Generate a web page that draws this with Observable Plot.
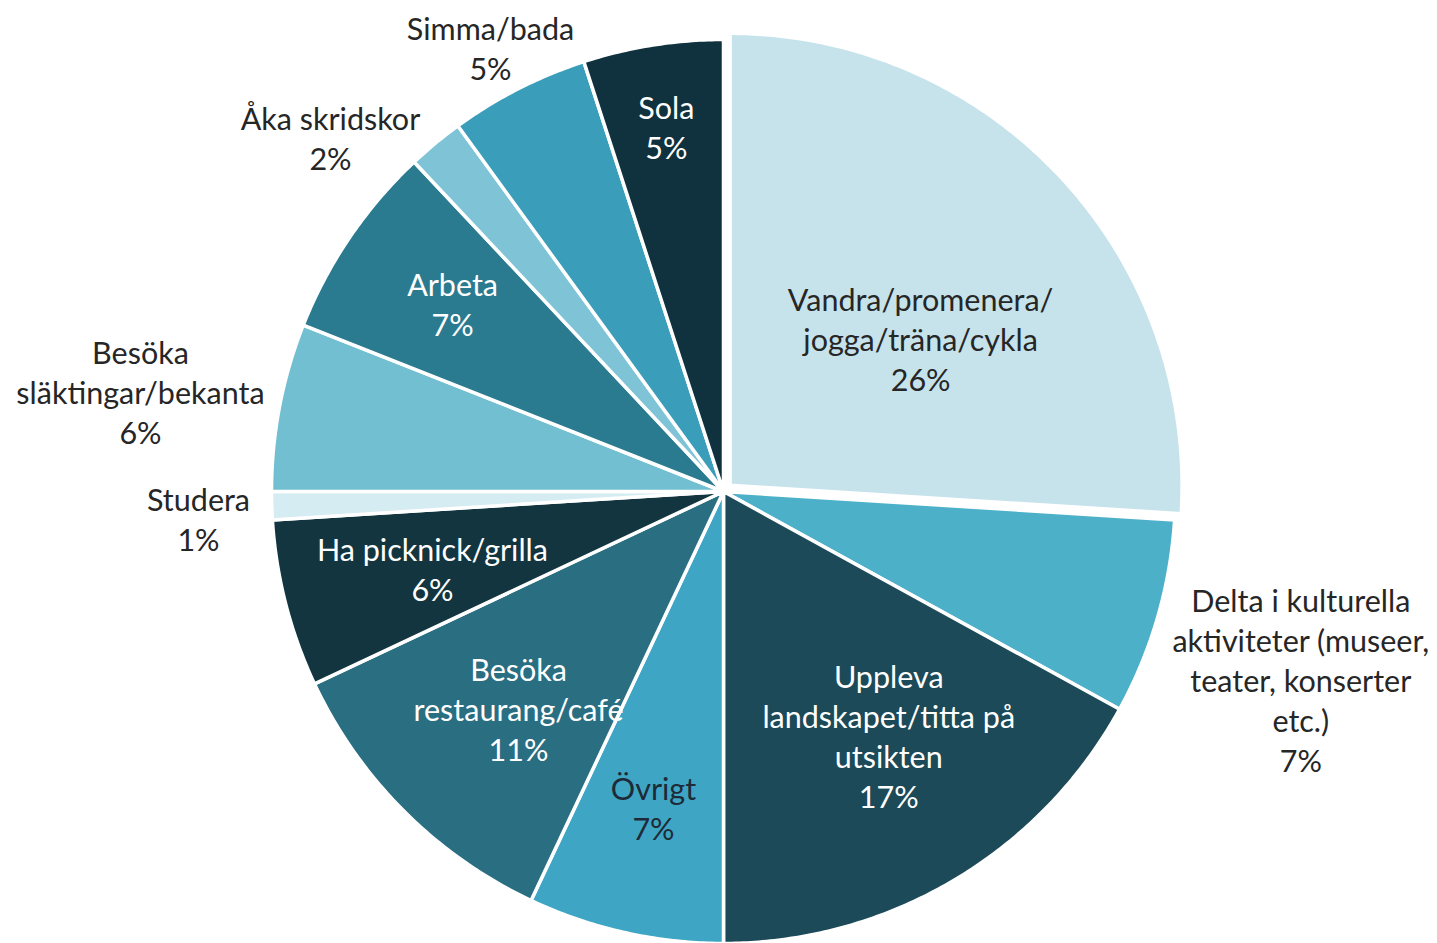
<!DOCTYPE html>
<html>
<head>
<meta charset="utf-8">
<script src="https://cdn.jsdelivr.net/npm/d3@7"></script>
<script src="https://cdn.jsdelivr.net/npm/@observablehq/plot@0.6"></script>
<style>
  html, body { margin: 0; padding: 0; background: #ffffff; }
  #chart { width: 1437px; height: 943px; }
</style>
</head>
<body>
<div id="chart"></div>
<script>
// ---- Data (clockwise from 12 o'clock) ----
const categories = [
  "Vandra/promenera/\njogga/träna/cykla",
  "Delta i kulturella\naktiviteter (museer,\nteater, konserter\netc.)",
  "Uppleva\nlandskapet/titta på\nutsikten",
  "Övrigt",
  "Besöka\nrestaurang/café",
  "Ha picknick/grilla",
  "Studera",
  "Besöka\nsläktingar/bekanta",
  "Arbeta",
  "Åka skridskor",
  "Simma/bada",
  "Sola"
];
const shares = [26, 7, 17, 7, 11, 6, 1, 6, 7, 2, 5, 5];
const percentLabels = ["26%", "7%", "17%", "7%", "11%", "6%", "1%", "6%", "7%", "2%", "5%", "5%"];

// ---- Styling / layout (not data) ----
const sliceColors = ["#c6e3ec", "#4cb0c9", "#1c4a58", "#3ea6c4", "#2a6e82", "#123540",
                     "#d4ecf2", "#72bfd2", "#2b7b90", "#7ec4d6", "#3a9dba", "#10323e"];
const labelColors = ["#262626", "#262626", "#ffffff", "#1e2a38", "#ffffff", "#ffffff",
                     "#262626", "#262626", "#ffffff", "#262626", "#262626", "#ffffff"];
// radial position of each label (fraction of radius) and small angular nudge (deg)
const labelRadius = [0.532, 1.343, 0.652, 0.716, 0.66, 0.666, 1.163, 1.309, 0.73, 1.17, 1.109, 0.817];
const labelNudge  = [5.6, 1.8, -3.5, -0.1, -1.6, -0.4, -1.1, -1.0, 0.6, -8.4, -0.7, 0.1];
const explode = [0.02, 0, 0, 0, 0, 0, 0, 0, 0, 0, 0, 0]; // fraction of radius
const W = 1437, H = 943, CX = 723, CY = 491, R = 452;

// ---- Build slice geometry in unit-circle coordinates ----
const total = d3.sum(shares);
let acc = 0;
const slices = shares.map((v, i) => {
  const a0 = acc / total * 2 * Math.PI;
  acc += v;
  const a1 = acc / total * 2 * Math.PI;
  return {i, name: categories[i], a0, a1, mid: (a0 + a1) / 2};
});

const pts = [];
for (const s of slices) {
  const ox = explode[s.i] * Math.sin(s.mid), oy = explode[s.i] * Math.cos(s.mid);
  pts.push({key: s.name, x: ox, y: oy});
  const n = Math.max(2, Math.ceil((s.a1 - s.a0) / (Math.PI / 360)));
  for (let k = 0; k <= n; k++) {
    const a = s.a0 + (s.a1 - s.a0) * k / n;
    pts.push({key: s.name, x: ox + Math.sin(a), y: oy + Math.cos(a)});
  }
}

const labels = slices.map(s => {
  const a = s.mid + labelNudge[s.i] * Math.PI / 180;
  const r = labelRadius[s.i];
  const ox = explode[s.i] * Math.sin(s.mid), oy = explode[s.i] * Math.cos(s.mid);
  return {
    text: categories[s.i] + "\n" + percentLabels[s.i],
    x: ox + r * Math.sin(a),
    y: oy + r * Math.cos(a),
    color: labelColors[s.i]
  };
});

const chart = Plot.plot({
  width: W,
  height: H,
  margin: 0,
  style: {background: "#ffffff", fontFamily: "Lato, 'Open Sans', sans-serif"},
  x: {domain: [-CX / R, (W - CX) / R], axis: null},
  y: {domain: [(CY - H) / R, CY / R], axis: null},
  color: {domain: categories, range: sliceColors},
  marks: [
    Plot.line(pts, {
      x: "x", y: "y", z: "key", fill: "key",
      stroke: "#ffffff", strokeWidth: 3.5, strokeLinejoin: "round",
      curve: "linear-closed"
    }),
    Plot.text(labels, {
      x: "x", y: "y", text: "text", fill: "color",
      fontSize: 30.5, lineHeight: 1.31, textAnchor: "middle"
    })
  ]
});
document.getElementById("chart").append(chart);
</script>
</body>
</html>
